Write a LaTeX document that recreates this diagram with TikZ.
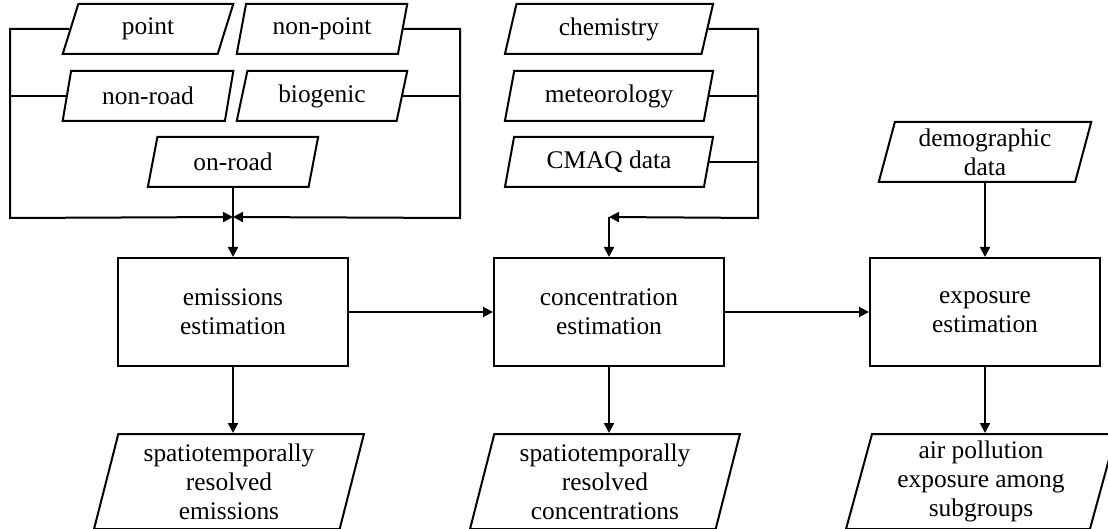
\documentclass[tikz,border=0pt]{standalone}
\usepackage{fontspec}
\setmainfont{Liberation Serif}
\usepackage{tikz}
\usetikzlibrary{shapes.geometric, arrows.meta, positioning, calc}

\begin{document}
\begin{tikzpicture}[
    process/.style={
      rectangle,
      draw=black,
      line width=1pt,
      minimum height=54pt,
      minimum width=115pt,
      align=center,
      inner sep=1pt,
      font=\fontsize{12.7}{14.5}\selectfont
    },
    data/.style={
      trapezium,
      trapezium left angle=76.5,
      trapezium right angle=103.5,
      trapezium stretches=true,
      draw=black,
      line width=1pt,
      minimum height=25pt,
      minimum width=85.5pt,
      align=center,
      inner sep=1pt,
      font=\fontsize{12.7}{14.5}\selectfont
    },
    result/.style={
      data,
      minimum height=47.5pt,
      minimum width=135pt
    },
    arrow/.style={
      -{Triangle[length=5pt,width=5pt]},
      line width=1pt,
      draw=black
    },
    link/.style={
      line width=1pt,
      draw=black
    }
  ]
    \useasboundingbox (0,0) rectangle (554pt,-264.5pt);

    % Main row (Left to Right)
    \node (emis) [process] at (116.5pt,-156pt) {emissions\\estimation};
    \node (conc) [process, right=72pt of emis] {concentration\\estimation};
    \node (expo) [process, right=72pt of conc] {exposure\\estimation};

    % Outputs
    \node (emisout) [result, below=33pt of emis, xshift=-2pt] {spatiotemporally\\resolved\\emissions};
    \node (concout) [result, below=33pt of conc, xshift=-2pt] {spatiotemporally\\resolved\\concentrations};
    \node (expoout) [result, below=33pt of expo, xshift=-2pt] {air pollution\\exposure among\\subgroups};

    % Emission sources
    \node (onroad) [data, above=34.5pt of emis] {on-road};
    \node (nonroad) [data, above=7pt of onroad, xshift=-42.5pt] {non-road};
    \node (biogenic) [data, above=7pt of onroad, xshift=44.5pt] {biogenic};
    \node (point) [data, above=7.5pt of nonroad] {point};
    \node (nonpoint) [data, above=7.5pt of biogenic] {non-point};

    % Model inputs
    \node (cmaq) [data, minimum width=104.5pt, above=34.5pt of conc] {CMAQ data};
    \node (meteo) [data, minimum width=104.5pt, above=7pt of cmaq] {meteorology};
    \node (chem) [data, minimum width=104.5pt, above=7.5pt of meteo] {chemistry};

    % Population input
    \node (demo) [data, minimum width=106.5pt, minimum height=30pt, above=37pt of expo] {demographic\\data};

    % Junctions
    \coordinate [above=20pt of emis.north] (jemis);
    \coordinate [above=20pt of conc.north] (jconc);
    \coordinate (lcorner) at (5pt,-109pt);
    \coordinate (rcorner) at (230pt,-109pt);
    \coordinate (mcorner) at (379pt,-109pt);

    % Connections
    \draw [arrow] (point.west) -| (lcorner) -- (jemis);
    \draw [link] (nonroad.west) -- (nonroad.west -| lcorner);
    \draw [arrow] (nonpoint.east) -| (rcorner) -- (jemis);
    \draw [link] (biogenic.east) -- (biogenic.east -| rcorner);
    \draw [arrow] (onroad.south) -- (emis.north);

    \draw [arrow] (chem.east) -| (mcorner) -- (jconc);
    \draw [link] (meteo.east) -- (meteo.east -| mcorner);
    \draw [link] (cmaq.east) -- (cmaq.east -| mcorner);
    \draw [arrow] (jconc) -- (conc.north);

    \draw [arrow] (demo.south) -- (expo.north);

    \draw [arrow] (emis) -- (conc);
    \draw [arrow] (conc) -- (expo);

    \draw [arrow] (emis.south) -- (emis.south |- emisout.north);
    \draw [arrow] (conc.south) -- (conc.south |- concout.north);
    \draw [arrow] (expo.south) -- (expo.south |- expoout.north);

  \end{tikzpicture}
\end{document}
